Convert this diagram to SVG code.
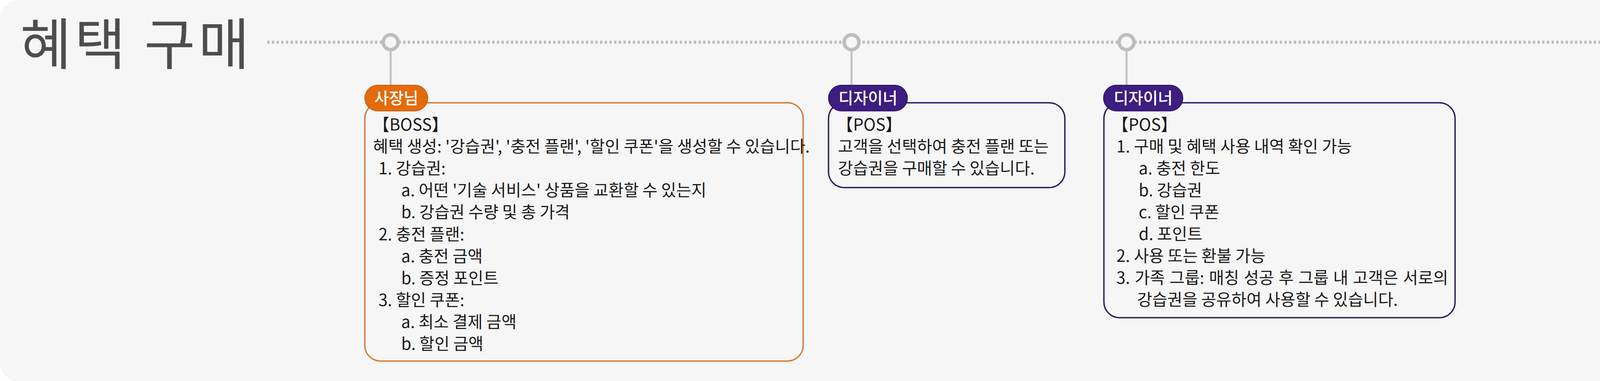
<svg xmlns="http://www.w3.org/2000/svg" width="4338" height="975" viewBox="0 0 4338 975">
  <style>
    .title { font-family: "Noto Sans CJK KR", "Noto Sans", sans-serif; font-size: 142px; letter-spacing: 8px; fill: #4d4d4d; }
    .body { font-family: "Noto Sans CJK KR", "Noto Sans", sans-serif; font-size: 42px; fill: #1a1a1a; }
    .badge-text { font-family: "Noto Sans CJK KR", "Noto Sans", sans-serif; font-size: 41px; font-weight: 500; fill: #ffffff; text-anchor: middle; }
    .stem { stroke: #c0c0c0; stroke-width: 5; fill: none; }
    .dot { fill: #f6f6f6; stroke: #bdbdbd; stroke-width: 9; }
    .box-orange { fill: #f6f6f6; stroke: #d27a37; stroke-width: 3.5; }
    .box-purple { fill: #f6f6f6; stroke: #2d1a63; stroke-width: 3.5; }
    .badge-orange { fill: #e36b0c; stroke: #c95d0b; stroke-width: 2; }
    .badge-purple { fill: #3d1d80; stroke: #2d1566; stroke-width: 2; }
  </style>
  <rect x="0" y="0" width="4338" height="975" fill="#ffffff"/>
  <rect x="0" y="0" width="4333" height="977" rx="50" ry="50" fill="#f6f6f6"/>
  <line x1="4336.5" y1="0" x2="4336.5" y2="975" stroke="#6a6a6a" stroke-width="3"/>

  <text class="title" x="52" y="165">혜택 구매</text>

  <g id="connectors">
    <line x1="684" y1="108" x2="4200" y2="108" stroke="#bfbfbf" stroke-width="8" stroke-dasharray="6 6"/>
    <polygon points="4200,81 4247,108.5 4200,136" fill="#b3b3b3"/>
    <line class="stem" x1="1000" y1="130" x2="1000" y2="220"/>
    <line class="stem" x1="2180" y1="130" x2="2180" y2="220"/>
    <line class="stem" x1="2884" y1="130" x2="2884" y2="220"/>
    <circle class="dot" cx="1000" cy="108" r="19"/>
    <circle class="dot" cx="2180" cy="108" r="19"/>
    <circle class="dot" cx="2884" cy="108" r="19"/>
  </g>

  <g id="node-boss">
    <rect class="box-orange" x="934" y="263" width="1122" height="661" rx="40" ry="40"/>
    <rect class="badge-orange" x="934" y="218" width="161" height="66" rx="33" ry="33"/>
    <text class="badge-text" x="1014.5" y="266">사장님</text>
    <text class="body" x="955" y="334">【BOSS】</text>
    <text class="body" x="955" y="390">혜택 생성: '강습권', '충전 플랜', '할인 쿠폰'을 생성할 수 있습니다.</text>
    <text class="body" x="969" y="446">1. 강습권:</text>
    <text class="body" x="1027" y="502">a. 어떤 '기술 서비스' 상품을 교환할 수 있는지</text>
    <text class="body" x="1027" y="558">b. 강습권 수량 및 총 가격</text>
    <text class="body" x="969" y="615">2. 충전 플랜:</text>
    <text class="body" x="1027" y="671">a. 충전 금액</text>
    <text class="body" x="1027" y="727">b. 증정 포인트</text>
    <text class="body" x="969" y="783">3. 할인 쿠폰:</text>
    <text class="body" x="1027" y="839">a. 최소 결제 금액</text>
    <text class="body" x="1027" y="895">b. 할인 금액</text>
  </g>

  <g id="node-pos-1">
    <rect class="box-purple" x="2121" y="263" width="605" height="217" rx="40" ry="40"/>
    <rect class="badge-purple" x="2121" y="218" width="202" height="66" rx="33" ry="33"/>
    <text class="badge-text" x="2222" y="266">디자이너</text>
    <text class="body" x="2142" y="334">【POS】</text>
    <text class="body" x="2145" y="390">고객을 선택하여 충전 플랜 또는</text>
    <text class="body" x="2145" y="446">강습권을 구매할 수 있습니다.</text>
  </g>

  <g id="node-pos-2">
    <rect class="box-purple" x="2826" y="263" width="899" height="550" rx="40" ry="40"/>
    <rect class="badge-purple" x="2825" y="218" width="203" height="66" rx="33" ry="33"/>
    <text class="badge-text" x="2926.5" y="266">디자이너</text>
    <text class="body" x="2847" y="334">【POS】</text>
    <text class="body" x="2858" y="390">1. 구매 및 혜택 사용 내역 확인 가능</text>
    <text class="body" x="2915" y="446">a. 충전 한도</text>
    <text class="body" x="2915" y="502">b. 강습권</text>
    <text class="body" x="2915" y="558">c. 할인 쿠폰</text>
    <text class="body" x="2915" y="614">d. 포인트</text>
    <text class="body" x="2858" y="670">2. 사용 또는 환불 가능</text>
    <text class="body" x="2858" y="726" word-spacing="2.5">3. 가족 그룹: 매칭 성공 후 그룹 내 고객은 서로의</text>
    <text class="body" x="2911" y="782">강습권을 공유하여 사용할 수 있습니다.</text>
  </g>
</svg>
